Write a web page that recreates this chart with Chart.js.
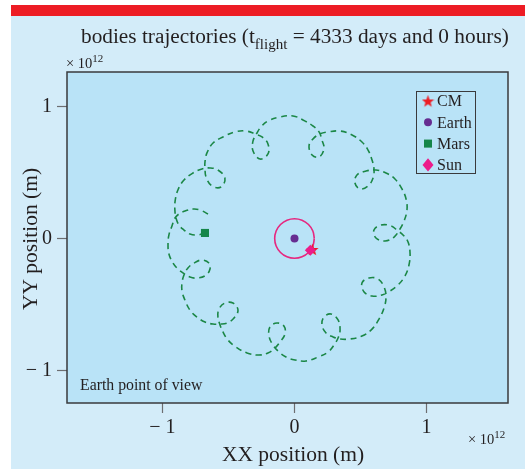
<!DOCTYPE html>
<html>
<head>
<meta charset="utf-8">
<script src="https://cdn.jsdelivr.net/npm/chart.js@4.4.1/dist/chart.umd.min.js"></script>
<style>
  html, body { margin: 0; padding: 0; background: #fff; }
</style>
</head>
<body>
<canvas id="bodies" width="525" height="469"></canvas>
<script>
// positions in units of 1e12 m, Earth at the origin
const marsPathX = [
  -0.655, -0.716, -0.769, -0.830, -0.875, -0.905, -0.928, -0.951, -0.958, -0.951,
  -0.920, -0.883, -0.845, -0.792, -0.731, -0.670, -0.640, -0.648, -0.701, -0.761,
  -0.807, -0.837, -0.852, -0.852, -0.830, -0.792, -0.739, -0.678, -0.617, -0.564,
  -0.511, -0.458, -0.428, -0.466, -0.527, -0.572, -0.580, -0.564, -0.542, -0.504,
  -0.443, -0.360, -0.269, -0.201, -0.148, -0.110, -0.072, -0.080, -0.133, -0.186,
  -0.193, -0.163, -0.117, -0.064, 0.004, 0.087, 0.178, 0.254, 0.299, 0.330,
  0.345, 0.330, 0.277, 0.223, 0.208, 0.239, 0.292, 0.345, 0.420, 0.511,
  0.587, 0.640, 0.678, 0.693, 0.678, 0.633, 0.564, 0.511, 0.527, 0.587,
  0.663, 0.723, 0.784, 0.837, 0.867, 0.875, 0.860, 0.822, 0.784, 0.731,
  0.655, 0.602, 0.617, 0.686, 0.754, 0.799, 0.830, 0.852, 0.845, 0.814,
  0.761, 0.693, 0.617, 0.542, 0.473, 0.458, 0.496, 0.557, 0.595, 0.602,
  0.587, 0.557, 0.511, 0.436, 0.345, 0.254, 0.193, 0.140, 0.110, 0.133,
  0.186, 0.223, 0.208, 0.186, 0.140, 0.064, -0.011, -0.110, -0.201, -0.254,
  -0.284, -0.314, -0.314, -0.261, -0.201, -0.201, -0.246, -0.299, -0.367, -0.451,
  -0.542, -0.617, -0.663, -0.678, -0.678, -0.670, -0.625, -0.557, -0.527, -0.580,
  -0.640, -0.701, -0.769, -0.837, -0.883, -0.905, -0.905, -0.898, -0.875, -0.837,
  -0.792, -0.731, -0.678
];
const marsPathY = [
  0.186, 0.216, 0.223, 0.208, 0.186, 0.155, 0.095, 0.027, -0.042, -0.117,
  -0.186, -0.231, -0.261, -0.292, -0.299, -0.277, -0.231, -0.186, -0.163, -0.186,
  -0.223, -0.277, -0.337, -0.398, -0.466, -0.542, -0.595, -0.633, -0.648, -0.648,
  -0.640, -0.602, -0.542, -0.489, -0.489, -0.534, -0.595, -0.655, -0.708, -0.769,
  -0.822, -0.867, -0.883, -0.867, -0.830, -0.784, -0.723, -0.663, -0.640, -0.670,
  -0.739, -0.807, -0.860, -0.898, -0.920, -0.928, -0.898, -0.860, -0.807, -0.754,
  -0.693, -0.617, -0.572, -0.595, -0.655, -0.716, -0.746, -0.761, -0.761, -0.739,
  -0.686, -0.610, -0.527, -0.443, -0.367, -0.307, -0.299, -0.337, -0.405, -0.436,
  -0.428, -0.398, -0.352, -0.284, -0.201, -0.110, -0.027, 0.027, 0.057, 0.095,
  0.102, 0.064, 0.004, -0.019, 0.011, 0.072, 0.133, 0.216, 0.299, 0.375,
  0.451, 0.496, 0.519, 0.511, 0.481, 0.420, 0.375, 0.398, 0.458, 0.527,
  0.595, 0.670, 0.731, 0.784, 0.814, 0.807, 0.792, 0.754, 0.701, 0.633,
  0.617, 0.678, 0.746, 0.807, 0.852, 0.898, 0.928, 0.920, 0.890, 0.845,
  0.799, 0.739, 0.663, 0.602, 0.640, 0.716, 0.769, 0.792, 0.814, 0.807,
  0.769, 0.723, 0.648, 0.580, 0.534, 0.466, 0.398, 0.390, 0.458, 0.519,
  0.534, 0.527, 0.496, 0.443, 0.367, 0.277, 0.201, 0.155, 0.102, 0.064,
  0.034, 0.027, 0.042
];
const sunOrbitX = [0.150, 0.139, 0.106, 0.057, 0.000, -0.057, -0.106, -0.139, -0.150,
  -0.139, -0.106, -0.057, 0.000, 0.057, 0.106, 0.139, 0.150];
const sunOrbitY = [0.000, 0.057, 0.106, 0.139, 0.150, 0.139, 0.106, 0.057, 0.000,
  -0.057, -0.106, -0.139, -0.150, -0.139, -0.106, -0.057, 0.000];

const bodyNames = ['CM', 'Earth', 'Mars', 'Sun'];
const bodyX = [0.135, 0.000, -0.678, 0.120];
const bodyY = [-0.083, 0.000, 0.042, -0.090];
const bodyColors = ['#ed1c24', '#662d91', '#15864a', '#ec1c8a'];

const xTickValues = [-1, 0, 1];
const yTickValues = [-1, 0, 1];

const FONT = '"Liberation Serif", "Times New Roman", serif';
const INK = '#231f20';
const OUTER_BG = '#d3ecf9';
const PLOT_BG = '#b9e3f7';

// filled five point star used as marker for the centre of mass
function makeStar(size, color) {
  const c = document.createElement('canvas');
  c.width = size; c.height = size;
  const g = c.getContext('2d');
  const r = size / 2, ri = r * 0.42;
  g.beginPath();
  for (let i = 0; i < 10; i++) {
    const a = -Math.PI / 2 + i * Math.PI / 5;
    const rr = i % 2 ? ri : r;
    g.lineTo(r + rr * Math.cos(a), r + 0.6 + rr * Math.sin(a));
  }
  g.closePath();
  g.fillStyle = color;
  g.fill();
  return c;
}
const starImg = makeStar(13, bodyColors[0]);
const bodyStyles = [starImg, 'circle', 'rect', 'rectRot'];
const bodyRadius = [6, 4, 5.7, 5.5];

const toPoints = (xs, ys) => xs.map((x, i) => ({ x: x, y: ys[i] }));

function tickLabel(v) {
  return v < 0 ? '\u2212 ' + Math.abs(v) : String(v);
}

// text pieces: [text, size, baseline shift]
function drawRuns(ctx, runs, x, y) {
  runs.forEach(([t, size, dy]) => {
    ctx.font = size + 'px ' + FONT;
    ctx.fillText(t, x, y + dy);
    x += ctx.measureText(t).width;
  });
}

function drawMarker(ctx, i, x, y) {
  const st = bodyStyles[i], r = bodyRadius[i];
  ctx.fillStyle = bodyColors[i];
  if (typeof st !== 'string') {
    ctx.drawImage(st, x - st.width / 2, y - st.height / 2);
    return;
  }
  ctx.beginPath();
  if (st === 'circle') {
    ctx.arc(x, y, r, 0, Math.PI * 2);
  } else if (st === 'rect') {
    const s = r * Math.SQRT1_2;
    ctx.rect(x - s, y - s, 2 * s, 2 * s);
  } else {
    ctx.moveTo(x - r, y); ctx.lineTo(x, y - r * 1.2);
    ctx.lineTo(x + r, y); ctx.lineTo(x, y + r * 1.2);
    ctx.closePath();
  }
  ctx.fill();
}

const decor = {
  id: 'decor',
  beforeDraw(chart) {
    const { ctx, chartArea: a } = chart;
    ctx.save();
    ctx.fillStyle = '#ffffff';
    ctx.fillRect(0, 0, chart.width, chart.height);
    ctx.fillStyle = OUTER_BG;
    ctx.fillRect(11, 16, chart.width - 11, chart.height - 16);
    ctx.fillStyle = '#ed1c24';
    ctx.fillRect(11, 5, chart.width - 11, 11);
    ctx.fillStyle = PLOT_BG;
    ctx.fillRect(a.left, a.top, a.right - a.left, a.bottom - a.top);
    ctx.restore();
  },
  afterDraw(chart) {
    const { ctx, chartArea: a } = chart;
    ctx.save();
    // plot frame
    ctx.strokeStyle = '#3a3a3c';
    ctx.lineWidth = 1.5;
    ctx.strokeRect(a.left, a.top, a.right - a.left, a.bottom - a.top);

    ctx.fillStyle = INK;
    ctx.textBaseline = 'alphabetic';
    ctx.textAlign = 'left';
    drawRuns(ctx, [['bodies trajectories (t', 21.3, 0], ['flight', 15, 5.5],
      [' = 4333 days and 0 hours)', 21.3, 0]], 81, 43);
    drawRuns(ctx, [['\u00d7 10', 14.5, 0], ['12', 11, -6.5]], 66, 68);
    drawRuns(ctx, [['\u00d7 10', 14.5, 0], ['12', 11, -6.5]], 468, 444);

    ctx.font = '15.8px ' + FONT;
    ctx.fillText('Earth point of view', 80, 390);

    ctx.font = '21.5px ' + FONT;
    ctx.textAlign = 'center';
    ctx.fillText('XX position (m)', 293, 461);
    ctx.translate(37, 239);
    ctx.rotate(-Math.PI / 2);
    ctx.fillText('YY position (m)', 0, 0);
    ctx.restore();

    // legend box
    ctx.save();
    ctx.strokeStyle = '#3a3a3c';
    ctx.lineWidth = 1;
    ctx.strokeRect(416.5, 91.5, 59, 82);
    ctx.font = '16px ' + FONT;
    ctx.textBaseline = 'middle';
    bodyNames.forEach((name, i) => {
      const y = 101 + i * 21.3;
      drawMarker(ctx, i, 428, y);
      ctx.fillStyle = INK;
      ctx.fillText(name, 437, y + 1);
    });
    ctx.restore();
  }
};

const tickFont = { family: FONT, size: 20 };
const gridOpts = { drawOnChartArea: false, drawTicks: true, tickLength: 10, tickColor: '#6d6e71', tickWidth: 1.2 };

const datasets = bodyNames.map((name, i) => ({
  label: name,
  data: [{ x: bodyX[i], y: bodyY[i] }],
  pointStyle: bodyStyles[i],
  pointRadius: bodyRadius[i],
  backgroundColor: bodyColors[i],
  borderWidth: 0,
  showLine: false,
  order: i === 3 ? 0 : i + 1
}));
datasets.push({
  label: 'Sun orbit',
  data: toPoints(sunOrbitX, sunOrbitY),
  showLine: true,
  borderColor: '#e6277f',
  borderWidth: 1.6,
  pointRadius: 0,
  tension: 0.4,
  fill: false,
  order: 5
});
datasets.push({
  label: 'Mars trajectory',
  data: toPoints(marsPathX, marsPathY),
  showLine: true,
  borderColor: '#1b8746',
  borderWidth: 1.6,
  borderDash: [6, 4.5],
  pointRadius: 0,
  tension: 0.4,
  fill: false,
  order: 6
});

new Chart(document.getElementById('bodies'), {
  type: 'scatter',
  data: { datasets: datasets },
  options: {
    responsive: false,
    animation: false,
    devicePixelRatio: 1,
    layout: { padding: { top: 72, right: 17, left: 0, bottom: 0 } },
    plugins: {
      legend: { display: false },
      tooltip: { enabled: false },
      title: { display: false }
    },
    scales: {
      x: {
        type: 'linear',
        min: -1.723,
        max: 1.617,
        afterBuildTicks: s => { s.ticks = xTickValues.map(v => ({ value: v })); },
        afterFit: s => { s.height = 66; },
        grid: gridOpts,
        border: { display: false },
        ticks: { font: tickFont, color: INK, padding: 3, maxRotation: 0, autoSkip: false, callback: tickLabel }
      },
      y: {
        type: 'linear',
        min: -1.246,
        max: 1.261,
        afterBuildTicks: s => { s.ticks = yTickValues.map(v => ({ value: v })); },
        afterFit: s => { s.width = 67; },
        grid: gridOpts,
        border: { display: false },
        ticks: { font: tickFont, color: INK, padding: 5, autoSkip: false, callback: tickLabel }
      }
    }
  },
  plugins: [decor]
});
</script>
</body>
</html>
